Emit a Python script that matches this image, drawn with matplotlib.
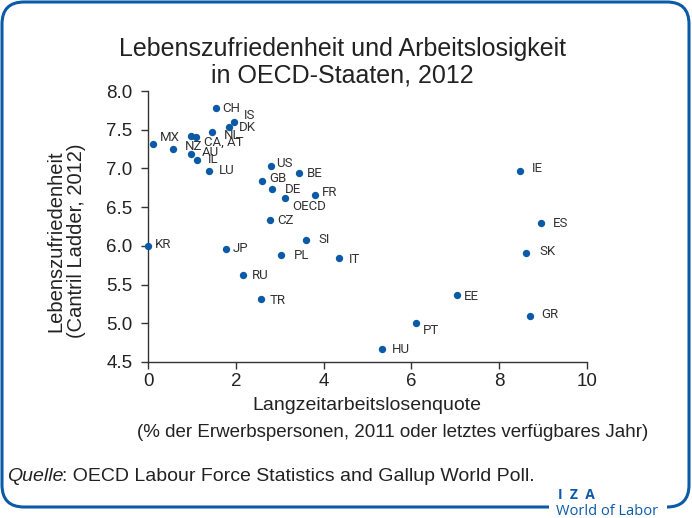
import matplotlib
matplotlib.use('Agg')
from matplotlib import pyplot as plt
from matplotlib.patches import FancyBboxPatch, Rectangle
from matplotlib.transforms import IdentityTransform

# Country codes, long-term unemployment rate and life satisfaction
codes = ['CH', 'IS', 'DK', 'NL', 'CA', 'AT', 'MX', 'NZ', 'AU', 'IL', 'LU',
         'US', 'BE', 'GB', 'DE', 'FR', 'OECD', 'CZ', 'SI', 'PL', 'KR', 'JP',
         'IT', 'RU', 'TR', 'IE', 'ES', 'SK', 'EE', 'GR', 'PT', 'HU']
unemployment = [1.55, 1.95, 1.84, 1.46, 0.97, 1.09, 0.11, 0.58, 0.97, 1.12,
                1.40, 2.79, 3.43, 2.60, 2.82, 3.81, 3.12, 2.77, 3.60, 3.03,
                0.00, 1.77, 4.34, 2.16, 2.57, 8.47, 8.95, 8.60, 7.03, 8.70,
                6.10, 5.34]
satisfaction = [7.78, 7.60, 7.53, 7.47, 7.42, 7.40, 7.32, 7.25, 7.19, 7.11,
                6.97, 7.03, 6.94, 6.84, 6.73, 6.66, 6.62, 6.34, 6.07, 5.88,
                6.00, 5.96, 5.84, 5.62, 5.31, 6.97, 6.29, 5.91, 5.36, 5.09,
                5.00, 4.67]
# shown label text for each point (CA and AT share one label)
labels = {'CA': '', 'AT': 'CA, AT'}
# label offsets in pixels (dx, dy), default right of the point
offsets = {'CH': (6, 0), 'IS': (10, 6), 'DK': (10, 0), 'NL': (12, -3),
           'AT': (8, -5), 'MX': (7, 6), 'NZ': (11, 3), 'AU': (11, 1),
           'IL': (11, 0), 'LU': (9, 0), 'US': (6, 3), 'BE': (8, 0),
           'GB': (7, 2), 'DE': (13, 0), 'FR': (7, 2), 'OECD': (7, -9),
           'CZ': (8, -1), 'SI': (12, 1), 'PL': (13, 0), 'KR': (7, 1),
           'JP': (7, 0), 'IT': (10, -1), 'RU': (9, 0), 'TR': (9, -1),
           'IE': (12, 2), 'ES': (12, 0), 'SK': (14, 1), 'EE': (7, -1),
           'GR': (11, 2), 'PT': (7, -7), 'HU': (9, -1)}

BLUE = '#0b5aa8'
TEXT = '#222222'

plt.rcParams['font.family'] = ['Liberation Sans', 'DejaVu Sans']

fig = plt.figure(figsize=(6.92, 5.18), dpi=100)

# rounded frame around the whole chart (pixel coords, origin bottom-left)
frame = FancyBboxPatch((2, 11), 687, 505,
                       boxstyle='round,pad=0,rounding_size=22',
                       transform=IdentityTransform(), fill=False,
                       edgecolor=BLUE, linewidth=2.2)
fig.patches.append(frame)
# gap in the frame for the logo
gap = Rectangle((549, 0), 118, 18, transform=IdentityTransform(),
                facecolor='white', edgecolor='none')
fig.patches.append(gap)

ax = fig.add_axes([0.2139, 0.3012, 0.6344, 0.5231])
ax.scatter(unemployment, satisfaction, s=28, color=BLUE, zorder=3,
           clip_on=False, linewidths=0)

for code, x, y in zip(codes, unemployment, satisfaction):
    text = labels.get(code, code)
    if not text:
        continue
    dx, dy = offsets.get(code, (8, 0))
    ax.annotate(text, (x, y), xytext=(dx, dy), textcoords='offset pixels',
                ha='left', va='center', fontsize=9.5, color='#333333',
                family='Roboto')

ax.set_xlim(0, 10)
ax.set_ylim(4.5, 8.0)
ax.set_xticks([0, 2, 4, 6, 8, 10])
ax.set_yticks([4.5, 5.0, 5.5, 6.0, 6.5, 7.0, 7.5, 8.0])
ax.set_yticklabels(['4.5', '5.0', '5.5', '6.0', '6.5', '7.0', '7.5', '8.0'])
for side in ['top', 'right']:
    ax.spines[side].set_visible(False)
for side in ['left', 'bottom']:
    ax.spines[side].set_color('#333333')
    ax.spines[side].set_linewidth(1)
ax.tick_params(axis='both', labelsize=13.5, colors='#333333', length=5,
               width=1, labelcolor=TEXT)
ax.tick_params(axis='y', pad=6)
ax.tick_params(axis='x', pad=3)

# axis titles
fig.text(0.096, 0.535, 'Lebenszufriedenheit\n(Cantril Ladder, 2012)',
         rotation=90, ha='center', va='center', fontsize=14.5, color=TEXT,
         linespacing=1.1)
fig.text(0.530, 0.218, 'Langzeitarbeitslosenquote', ha='center',
         va='center', fontsize=14, color=TEXT)
fig.text(0.568, 0.165,
         '(% der Erwerbspersonen, 2011 oder letztes verfügbares Jahr)',
         ha='center', va='center', fontsize=13.5, color=TEXT)

# title
fig.text(0.495, 0.880, 'Lebenszufriedenheit und Arbeitslosigkeit\n'
         'in OECD-Staaten, 2012', ha='center', va='center', fontsize=18,
         color=TEXT, linespacing=1.15)

# source note
fig.text(0.010, 0.080, 'Quelle', ha='left', va='center', fontsize=14,
         color=TEXT, style='italic')
fig.text(0.010 + 0.0800, 0.080,
         ': OECD Labour Force Statistics and Gallup World Poll.',
         ha='left', va='center', fontsize=14, color=TEXT)

# logo
fig.text(0.806, 0.044, 'I  Z  A', ha='left', va='center', fontsize=10,
         color=BLUE, family='Open Sans', fontweight='bold')
fig.text(0.804, 0.012, 'World of Labor', ha='left', va='center',
         fontsize=10.5, color=BLUE, family='Open Sans')

fig.savefig('out.png', dpi=100)
